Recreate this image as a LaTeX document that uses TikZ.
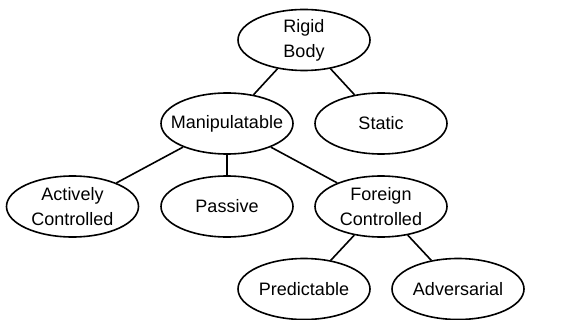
\documentclass[tikz,border=0pt]{standalone}
\usepackage{fontspec}
\setmainfont{Liberation Sans}
\usetikzlibrary{shapes.geometric}

\begin{document}
\begin{tikzpicture}[x=0.5pt, y=-0.5pt,
        kind/.style={ellipse, draw, line width=0.8pt, minimum width=66pt, minimum height=30.5pt,
            inner xsep=-6pt, inner ysep=-3pt, align=center, font=\fontsize{9}{12.5}\selectfont},
        link/.style={line width=0.8pt}]
        \useasboundingbox (0,0) rectangle (571,320);
        \node[kind] (rigid) at (304,40) {Rigid\\Body};
        \node[kind] (manip) at (227,123.5) {Manipulatable};
        \node[kind] (static) at (381,123.5) {Static};
        \node[kind] (active) at (72.5,206.5) {Actively\\Controlled};
        \node[kind] (passive) at (227,206.5) {Passive};
        \node[kind] (foreign) at (381,206.5) {Foreign\\Controlled};
        \node[kind] (predict) at (304,289) {Predictable};
        \node[kind] (advers) at (458,289) {Adversarial};

        \draw[link] (rigid) -- (manip);
        \draw[link] (rigid) -- (static);
        \foreach \x in {active, passive, foreign} {
            \draw[link] (manip) -- (\x);
        }
        \draw[link] (foreign) -- (predict);
        \draw[link] (foreign) -- (advers);
    \end{tikzpicture}
\end{document}
